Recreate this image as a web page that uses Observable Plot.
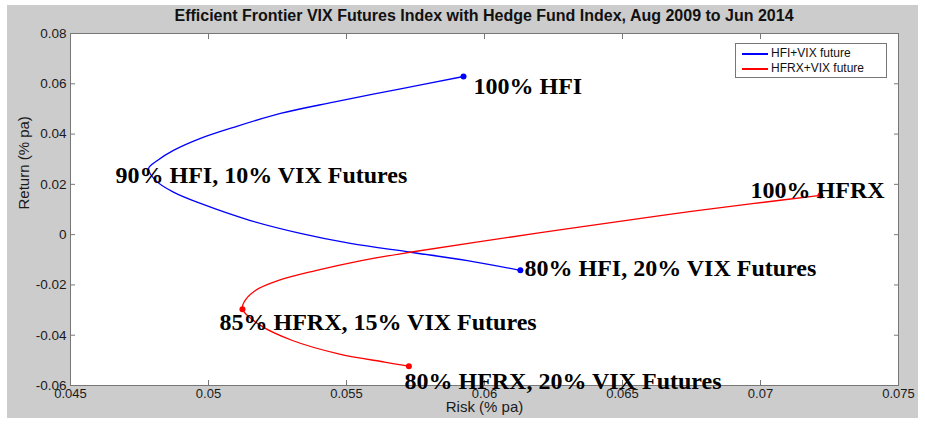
<!DOCTYPE html>
<html><head><meta charset="utf-8">
<script src="https://cdn.jsdelivr.net/npm/d3@7"></script>
<script src="https://cdn.jsdelivr.net/npm/@observablehq/plot@0.6"></script>
<style>
body{margin:0;background:#fff;width:925px;height:424px;overflow:hidden;position:relative;font-family:"Liberation Sans",Arial,sans-serif}
#bg{position:absolute;left:7px;top:5px;width:911px;height:413px;background:#cccccc}
#chart{position:absolute;left:0;top:0}
#title{position:absolute;left:70px;width:828px;top:7px;text-align:center;font:bold 16px "Liberation Sans",Arial,sans-serif;color:#111}
#legend{position:absolute;left:735px;top:43px;width:152px;height:35px;background:#fff;border:1px solid #777;box-sizing:border-box;font:12px "Liberation Sans",Arial,sans-serif;color:#111}
#legend div{position:absolute;left:6px;height:14px;line-height:14px}
#legend span{display:inline-block;width:26px;height:1.5px;vertical-align:middle;margin-right:3px}
</style></head>
<body>
<div id="bg"></div>
<div id="chart"></div>
<div id="title"></div>
<div id="legend"></div>
<script>
const chartTitle = "Efficient Frontier VIX Futures Index with Hedge Fund Index, Aug 2009 to Jun 2014";
const seriesNames = ["HFI+VIX future", "HFRX+VIX future"];
const seriesColors = ["#0000ff", "#ff0000"];

// HFI + VIX futures frontier (risk, return)
const hfiRisk   = [0.05924, 0.05696, 0.05453, 0.05261, 0.05091, 0.04971, 0.04873, 0.04815, 0.04783, 0.04808, 0.04873, 0.04971, 0.05152, 0.05333, 0.05514, 0.05732, 0.05938, 0.0613];
const hfiReturn = [0.0629, 0.0580, 0.0527, 0.0482, 0.0427, 0.0383, 0.0335, 0.0295, 0.0263, 0.0216, 0.0169, 0.0124, 0.0056, 0.0005, -0.0035, -0.0070, -0.0103, -0.0142];

// HFRX + VIX futures frontier (risk, return)
const hfrxRisk   = [0.07217, 0.0697, 0.06637, 0.06304, 0.05971, 0.0573, 0.05554, 0.05388, 0.05254, 0.0517, 0.05129, 0.05123, 0.05188, 0.05304, 0.05471, 0.05638, 0.05726];
const hfrxReturn = [0.0156, 0.0123, 0.0076, 0.0024, -0.0030, -0.0070, -0.0103, -0.0143, -0.0182, -0.0222, -0.0268, -0.0297, -0.0361, -0.0421, -0.0474, -0.0507, -0.0523];

// marked portfolios
const markerRisk   = [0.05924, 0.0613, 0.07217, 0.05123, 0.05726];
const markerReturn = [0.0629, -0.0142, 0.0156, -0.0297, -0.0523];
const markerSeries = [0, 0, 1, 1, 1];

// annotations (left edge, vertical middle, in data units)
const labelText   = ["100% HFI", "90% HFI, 10% VIX Futures", "100% HFRX", "80% HFI, 20% VIX Futures", "85% HFRX, 15% VIX Futures", "80% HFRX, 20% VIX Futures"];
const labelRisk   = [0.0596, 0.04663, 0.06964, 0.06145, 0.0504, 0.0571];
const labelReturn = [0.0589, 0.0235, 0.0176, -0.0134, -0.0349, -0.0584];

const xTicks = [0.045, 0.05, 0.055, 0.06, 0.065, 0.07, 0.075];
const yTicks = [-0.06, -0.04, -0.02, 0, 0.02, 0.04, 0.06, 0.08];
const xLabel = "Risk (% pa)";
const yLabel = "Return (% pa)";

const hfi = hfiRisk.map((r, i) => ({risk: r, ret: hfiReturn[i]}));
const hfrx = hfrxRisk.map((r, i) => ({risk: r, ret: hfrxReturn[i]}));
const markers = markerRisk.map((r, i) => ({risk: r, ret: markerReturn[i], s: markerSeries[i]}));
const labels = labelText.map((t, i) => ({t, risk: labelRisk[i], ret: labelReturn[i]}));
const fmt = d => String(d);

const chart = Plot.plot({
  width: 925, height: 424,
  marginLeft: 70, marginRight: 27, marginTop: 33, marginBottom: 39,
  style: {background: "transparent", fontFamily: "'Liberation Sans', Arial, sans-serif", fontSize: "13px", color: "#1a1a1a"},
  x: {domain: [0.045, 0.075]},
  y: {domain: [-0.06, 0.08]},
  marks: [
    Plot.frame({fill: "white", stroke: "none"}),
    Plot.axisX({anchor: "bottom", ticks: xTicks, tickSize: -5, tickPadding: 8, tickFormat: fmt, label: null, stroke: "#777", fontSize: 13}),
    Plot.axisX({anchor: "top", ticks: xTicks, tickSize: -5, tickFormat: () => "", label: null, stroke: "#777"}),
    Plot.axisY({anchor: "left", ticks: yTicks, tickSize: -5, tickPadding: 9, tickFormat: fmt, label: null, stroke: "#777", fontSize: 13.5}),
    Plot.axisY({anchor: "right", ticks: yTicks, tickSize: -5, tickFormat: () => "", label: null, stroke: "#777"}),
    Plot.frame({stroke: "#777", strokeWidth: 1}),
    Plot.line(hfi, {x: "risk", y: "ret", stroke: seriesColors[0], strokeWidth: 1.3, curve: "catmull-rom"}),
    Plot.line(hfrx, {x: "risk", y: "ret", stroke: seriesColors[1], strokeWidth: 1.3, curve: "catmull-rom"}),
    Plot.dot(markers, {x: "risk", y: "ret", r: 3, fill: d => seriesColors[d.s], stroke: "none"}),
    Plot.text(labels, {x: "risk", y: "ret", text: "t", textAnchor: "start", fontFamily: "'Liberation Serif', 'Times New Roman', serif", fontWeight: "bold", fontSize: 24, fill: "black"}),
    Plot.text([xLabel], {frameAnchor: "bottom", dy: 26, fontSize: 15}),
    Plot.text([yLabel], {frameAnchor: "left", dx: -46, rotate: -90, fontSize: 15})
  ]
});
document.getElementById("chart").appendChild(chart);
document.getElementById("title").textContent = chartTitle;
const leg = document.getElementById("legend");
seriesNames.forEach((n, i) => {
  const row = document.createElement("div");
  row.style.top = (2 + i * 15) + "px";
  const sw = document.createElement("span");
  sw.style.background = seriesColors[i];
  row.appendChild(sw);
  row.appendChild(document.createTextNode(n));
  leg.appendChild(row);
});
</script>
</body></html>
